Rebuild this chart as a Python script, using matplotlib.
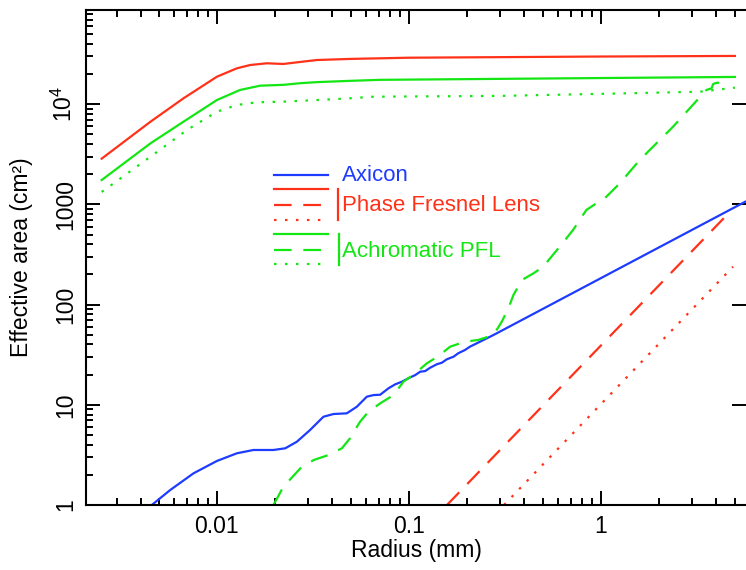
import matplotlib
matplotlib.use('Agg')
import matplotlib.pyplot as plt
from matplotlib.ticker import FixedLocator, NullFormatter, LogLocator

plt.rcParams['font.family'] = ['Liberation Sans', 'DejaVu Sans']
plt.rcParams['mathtext.fontset'] = 'custom'
plt.rcParams['mathtext.rm'] = 'Liberation Sans'
plt.rcParams['mathtext.it'] = 'Liberation Sans:italic'
plt.rcParams['lines.scale_dashes'] = False

# effective area vs radius, radius in mm, area in cm^2
axicon_r = [0.00458, 0.00571, 0.00755, 0.0100, 0.0127, 0.0155, 0.0197, 0.0227,
            0.0261, 0.0306, 0.0359, 0.0405, 0.0475, 0.0536, 0.0604, 0.0654,
            0.0709, 0.0783, 0.0849,
            0.092, 0.0995, 0.108, 0.1146, 0.1216, 0.129, 0.140, 0.1486, 0.158,
            0.171, 0.181, 0.196, 0.208, 0.226, 0.245, 0.265, 0.287, 5.66]
axicon_a = [1.0, 1.41, 2.07, 2.75, 3.28, 3.54, 3.54, 3.68,
            4.28, 5.61, 7.6, 8.09, 8.22, 9.57, 12.05, 12.5,
            12.6, 14.6, 16.0,
            17.0, 18.4, 19.8, 21.4, 21.7, 23.4, 25.4, 26.3, 28.5,
            30.2, 32.7, 35.2, 38.0, 41.1, 44.4, 47.8, 51.7, 1064]

pfl_r = [0.00251, 0.00451, 0.0067, 0.0100, 0.0127, 0.0149, 0.0182, 0.0222,
         0.0272, 0.0332, 0.0494, 0.0709, 0.1, 1.0, 5.0]
pfl_a = [2860, 6690, 11450, 18800, 22800, 24600, 25600, 25200,
         26400, 27600, 28300, 28700, 29100, 29900, 30300]
pfl_dash_r = [0.158, 4.81]
pfl_dash_a = [1.0, 879]
pfl_dot_r = [0.313, 4.89]
pfl_dot_a = [1.0, 239]

apfl_r = [0.00251, 0.00451, 0.0067, 0.0100, 0.0132, 0.0168, 0.0222, 0.0272,
          0.0332, 0.0494, 0.0709, 5.0]
apfl_a = [1750, 4070, 6690, 11000, 13860, 15300, 15600, 16200,
          16600, 17100, 17500, 18700]
apfl_dash_r = [0.0197, 0.0222, 0.0272, 0.0319, 0.0381, 0.0448, 0.0494, 0.0557,
               0.0616, 0.0710, 0.0832,
               0.0938, 0.108, 0.124, 0.143, 0.164, 0.196, 0.230, 0.276, 0.305,
               0.330, 0.351, 0.388, 0.446, 0.501, 0.611, 0.717, 0.841, 1.07,
               1.256, 1.596, 2.38, 3.55, 3.78, 3.85, 4.04, 4.29]
apfl_dash_a = [1.0, 1.52, 2.32, 2.81, 3.15, 3.68, 4.63, 6.78,
               8.53, 10.35, 12.5,
               17.0, 20.6, 25.9, 30.7, 38.0, 42.6, 44.4, 49.7, 67.5,
               91.8, 125, 176, 205, 239, 378, 555, 879, 1194,
               1623, 2773, 5960, 13860, 14400, 15900, 16400, 16100]
apfl_dot_r = [0.00251, 0.00518, 0.00698, 0.0100, 0.0127, 0.0162, 0.0222, 0.0332,
              0.0494, 0.0654, 0.3, 1.37, 3.29, 5.0]
apfl_dot_a = [1330, 3630, 5530, 8410, 9820, 10450, 10600, 11000,
              11450, 11880, 12100, 12840, 13330, 14620]

xtick_vals = [0.01, 0.1, 1]
xtick_labels = ['0.01', '0.1', '1']
ytick_vals = [1, 10, 100, 1000, 10000]
ytick_labels = ['1', '10', '100', '1000', r'$10^4$']

blue = '#1e3cff'
red = '#ff3219'
green = '#14e614'
dashed = (12.7, 8.4)
dotted = (1.8, 6.1)
lw = 1.6

fig = plt.figure(figsize=(7.46, 5.70), dpi=100)
ax = fig.add_axes([86 / 746, 65 / 570, 660 / 746, 495.3 / 570])
ax.set_xscale('log')
ax.set_yscale('log')

ax.plot(axicon_r, axicon_a, color=blue, lw=lw)
ax.plot(pfl_r, pfl_a, color=red, lw=lw)
ax.plot(pfl_dash_r, pfl_dash_a, color=red, lw=lw, dashes=dashed)
ax.plot(pfl_dot_r, pfl_dot_a, color=red, lw=lw, dashes=dotted)
ax.plot(apfl_r, apfl_a, color=green, lw=lw)
ax.plot(apfl_dash_r, apfl_dash_a, color=green, lw=lw, dashes=dashed)
ax.plot(apfl_dot_r, apfl_dot_a, color=green, lw=lw, dashes=dotted)

ax.set_xlim(0.00208, 5.71)
ax.set_ylim(1, 8.77e4)

ax.xaxis.set_major_locator(FixedLocator(xtick_vals))
ax.set_xticklabels(xtick_labels)
ax.xaxis.set_minor_locator(LogLocator(base=10, subs=range(2, 10)))
ax.xaxis.set_minor_formatter(NullFormatter())
ax.yaxis.set_major_locator(FixedLocator(ytick_vals))
ax.set_yticklabels(ytick_labels, rotation=90, va='center')
ax.yaxis.set_minor_locator(LogLocator(base=10, subs=range(2, 10)))
ax.yaxis.set_minor_formatter(NullFormatter())

ax.tick_params(which='both', direction='in', top=True, right=True,
               width=1.4, labelsize=16.5, color='black')
ax.tick_params(which='major', length=10)
ax.tick_params(axis='x', which='major', pad=7.2)
ax.tick_params(axis='y', which='major', pad=6.5)
ax.tick_params(which='minor', length=5)
ax.tick_params(axis='y', which='minor', right=False)
for side in ['left', 'bottom', 'top']:
    ax.spines[side].set_linewidth(1.5)
ax.spines['right'].set_visible(False)

ax.set_xlabel('Radius (mm)', fontsize=16.5)
ax.set_ylabel('Effective area (cm\u00b2)', fontsize=16.5)
ax.xaxis.set_label_coords(0.5, -0.0686)
ax.yaxis.set_label_coords(-0.0803, 0.5)

# key, drawn in axes fraction
tr = ax.transAxes
x0, x1 = 0.2848, 0.3671
key = [
    (0.6663, blue, None),
    (0.6374, red, None), (0.6057, red, dashed), (0.5748, red, dotted),
    (0.5465, green, None), (0.5148, green, dashed), (0.4860, green, dotted),
]
for yk, col, ds in key:
    if ds is None:
        ax.plot([x0, x1], [yk, yk], color=col, lw=lw, transform=tr)
    else:
        ax.plot([x0, x1], [yk, yk], color=col, lw=lw, dashes=ds, transform=tr)
ax.plot([0.3823, 0.3823], [0.6374, 0.5754], color=red, lw=1.6, transform=tr)
ax.plot([0.3833, 0.3833], [0.5465, 0.4846], color=green, lw=1.6, transform=tr)
ax.text(0.3874, 0.6542, 'Axicon', color=blue, fontsize=16, transform=tr,
        ha='left', va='baseline')
ax.text(0.3874, 0.5936, 'Phase Fresnel Lens', color=red, fontsize=16,
        transform=tr, ha='left', va='baseline')
ax.text(0.3874, 0.5013, 'Achromatic PFL', color=green, fontsize=16,
        transform=tr, ha='left', va='baseline')

fig.savefig('out.png', dpi=100)
